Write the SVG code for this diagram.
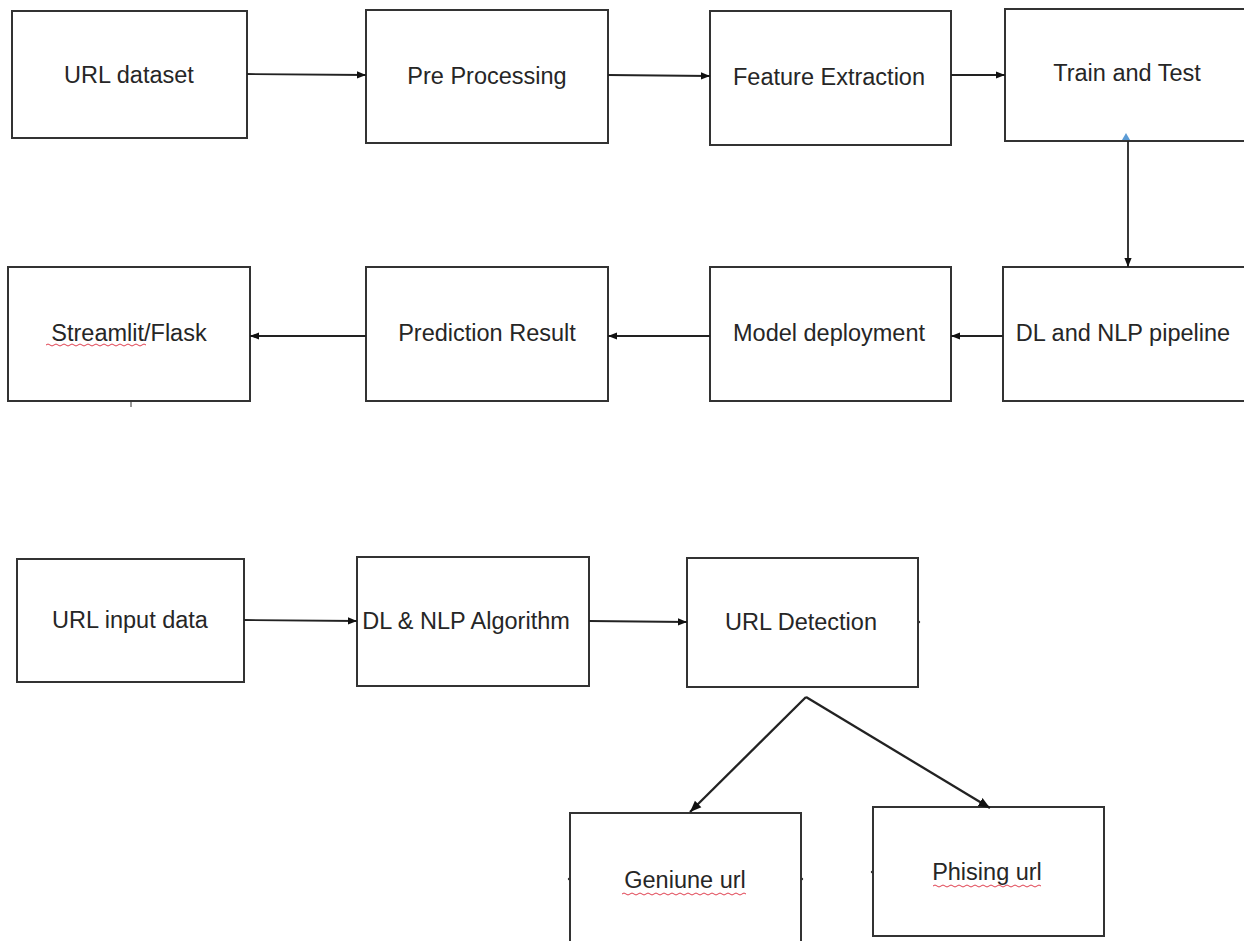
<svg xmlns="http://www.w3.org/2000/svg" width="1244" height="941" viewBox="0 0 1244 941">
<defs>
<style>
.box{fill:#fff;stroke:#333;stroke-width:2}
.lbl{font-family:"Liberation Sans",Arial,sans-serif;font-size:23.5px;fill:#262626;text-anchor:middle;dominant-baseline:central}
.con{stroke:#222;stroke-width:1.8;fill:none}
.thick{stroke-width:2.3}
.sq{stroke:#e04050;stroke-width:1;fill:none}
</style>
<marker id="ah" viewBox="0 0 10 10" refX="10" refY="5" markerWidth="5" markerHeight="5" orient="auto" markerUnits="strokeWidth">
<path d="M0,1 L10,5 L0,9 z" fill="#111"/>
</marker>
</defs>
<rect width="1244" height="941" fill="#fff"/>
<g id="n-url-dataset"><rect class="box" x="12" y="11" width="235" height="127"/><text class="lbl" x="129" y="75">URL dataset</text></g>
<g id="n-preprocessing"><rect class="box" x="366" y="10" width="242" height="133"/><text class="lbl" x="487" y="76">Pre Processing</text></g>
<g id="n-feature"><rect class="box" x="710" y="11" width="241" height="134"/><text class="lbl" x="829" y="77">Feature Extraction</text></g>
<g id="n-train"><rect class="box" x="1005" y="9" width="241" height="132"/><text class="lbl" x="1127" y="73">Train and Test</text></g>
<g id="n-streamlit"><rect class="box" x="8" y="267" width="242" height="134"/><text class="lbl" x="129" y="333">Streamlit/Flask</text><path class="sq" d="M46,345 q2,-2 4,0 t4,0 t4,0 t4,0 t4,0 t4,0 t4,0 t4,0 t4,0 t4,0 t4,0 t4,0 t4,0 t4,0 t4,0 t4,0 t4,0 t4,0 t4,0 t4,0 t4,0 t4,0 t4,0 t4,0 t4,0"/><line x1="131" y1="401" x2="131" y2="407" stroke="#333" stroke-width="1"/></g>
<g id="n-prediction"><rect class="box" x="366" y="267" width="242" height="134"/><text class="lbl" x="487" y="333">Prediction Result</text></g>
<g id="n-model"><rect class="box" x="710" y="267" width="241" height="134"/><text class="lbl" x="829" y="333">Model deployment</text></g>
<g id="n-dlnlp"><rect class="box" x="1003" y="267" width="243" height="134"/><text class="lbl" x="1123" y="333">DL and NLP pipeline</text></g>
<g id="n-url-input"><rect class="box" x="17" y="559" width="227" height="123"/><text class="lbl" x="130" y="620">URL input data</text></g>
<g id="n-algorithm"><rect class="box" x="357" y="557" width="232" height="129"/><text class="lbl" x="466" y="621">DL &amp; NLP Algorithm</text></g>
<g id="n-detection"><rect class="box" x="687" y="558" width="231" height="129"/><text class="lbl" x="801" y="622">URL Detection</text><circle cx="919" cy="622" r="1.2" fill="#333"/></g>
<g id="n-genuine"><rect class="box" x="570" y="813" width="231" height="140"/><text class="lbl" x="685" y="880">Geniune url</text><path class="sq" d="M622,894 q2,-2 4,0 t4,0 t4,0 t4,0 t4,0 t4,0 t4,0 t4,0 t4,0 t4,0 t4,0 t4,0 t4,0 t4,0 t4,0 t4,0 t4,0 t4,0 t4,0 t4,0 t4,0 t4,0 t4,0 t4,0 t4,0 t4,0 t4,0 t4,0 t4,0 t4,0 t4,0"/><circle cx="569" cy="879" r="1.2" fill="#333"/><circle cx="802" cy="879" r="1.2" fill="#333"/></g>
<g id="n-phishing"><rect class="box" x="873" y="807" width="231" height="129"/><text class="lbl" x="987" y="872">Phising url</text><path class="sq" d="M933,886 q2,-2 4,0 t4,0 t4,0 t4,0 t4,0 t4,0 t4,0 t4,0 t4,0 t4,0 t4,0 t4,0 t4,0 t4,0 t4,0 t4,0 t4,0 t4,0 t4,0 t4,0 t4,0 t4,0 t4,0 t4,0 t4,0 t4,0 t4,0"/><circle cx="872" cy="872" r="1.2" fill="#333"/></g>
<g id="connectors">
<line class="con" x1="247" y1="74" x2="366" y2="75" marker-end="url(#ah)"/>
<line class="con" x1="608" y1="75" x2="710" y2="76" marker-end="url(#ah)"/>
<line class="con" x1="951" y1="75" x2="1005" y2="75" marker-end="url(#ah)"/>
<line class="con" x1="1128" y1="141" x2="1128" y2="267" marker-end="url(#ah)"/>
<path d="M1126,133 L1130,140 L1122,140 z" fill="#5b9bd5"/>
<line class="con" x1="1003" y1="336" x2="951" y2="336" marker-end="url(#ah)"/>
<line class="con" x1="710" y1="336" x2="608" y2="336" marker-end="url(#ah)"/>
<line class="con" x1="366" y1="336" x2="250" y2="336" marker-end="url(#ah)"/>
<line class="con" x1="244" y1="620" x2="357" y2="621" marker-end="url(#ah)"/>
<line class="con" x1="589" y1="621" x2="687" y2="622" marker-end="url(#ah)"/>
<line class="con thick" x1="806" y1="697" x2="690" y2="812" marker-end="url(#ah)"/>
<line class="con thick" x1="806" y1="697" x2="990" y2="808" marker-end="url(#ah)"/>
</g>
</svg>
